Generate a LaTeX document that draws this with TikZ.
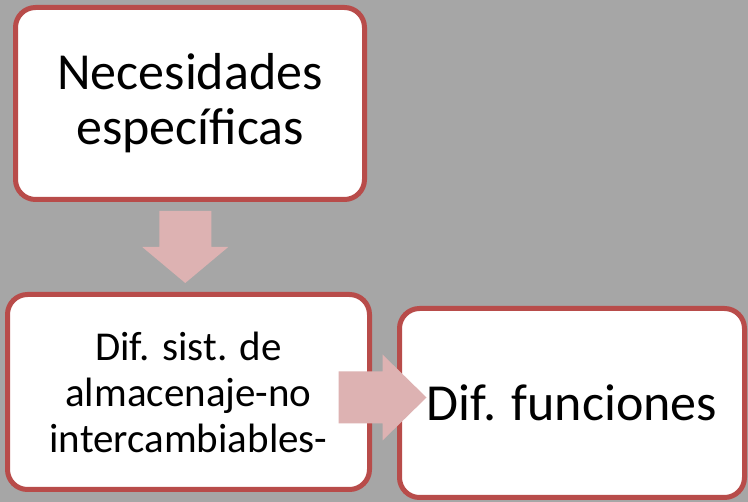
\documentclass[tikz,border=0pt]{standalone}
\usepackage{fontspec}
\setmainfont{Carlito}
\usetikzlibrary{calc}
\definecolor{boxred}{HTML}{B84C4A}
\definecolor{arrowpink}{HTML}{DDB2B2}
\definecolor{slidegray}{HTML}{A6A6A6}

\begin{document}
\begin{tikzpicture}[x=1pt,y=-1pt,inner sep=0pt]
    \tikzstyle{box}=[draw=boxred,line width=5pt,fill=white,rounded corners=20pt,align=center,outer sep=0pt]
    \tikzstyle{blockarrow}=[fill=arrowpink]
    \fill[slidegray] (0,0) rectangle (748,502);
    \useasboundingbox (0,0) rectangle (748,502);
    \node[box,minimum width=349pt,minimum height=192pt,font=\fontsize{52}{55}\selectfont] (nec) at (190,103.5) {Necesidades\\específicas};
    \node[box,minimum width=362pt,minimum height=195pt,font=\fontsize{41}{46}\selectfont] (dif) at (188.5,392) {Dif. sist. de\\almacenaje-no\\intercambiables-};
    \node[box,minimum width=345pt,minimum height=189pt,font=\fontsize{52}{60}\selectfont] (fun) at (572,403) {Dif. funciones};
    % flechas
    \coordinate (d) at ($(nec.south)!0.5!(dif.north)+(-4,0)$);
    \coordinate (r) at ($(dif.east)!0.5!(fun.west)+(-2,0)$);
    \fill[blockarrow,shift={(d)}] (-26,-36) -- (26,-36) -- (26,0) -- (43,0) -- (0,36) -- (-43,0) -- (-26,0) -- cycle;
    \fill[blockarrow,shift={(r)}] (-44,-26) -- (0,-26) -- (0,-43) -- (44,0) -- (0,43) -- (0,26) -- (-44,26) -- cycle;
\end{tikzpicture}
\end{document}
